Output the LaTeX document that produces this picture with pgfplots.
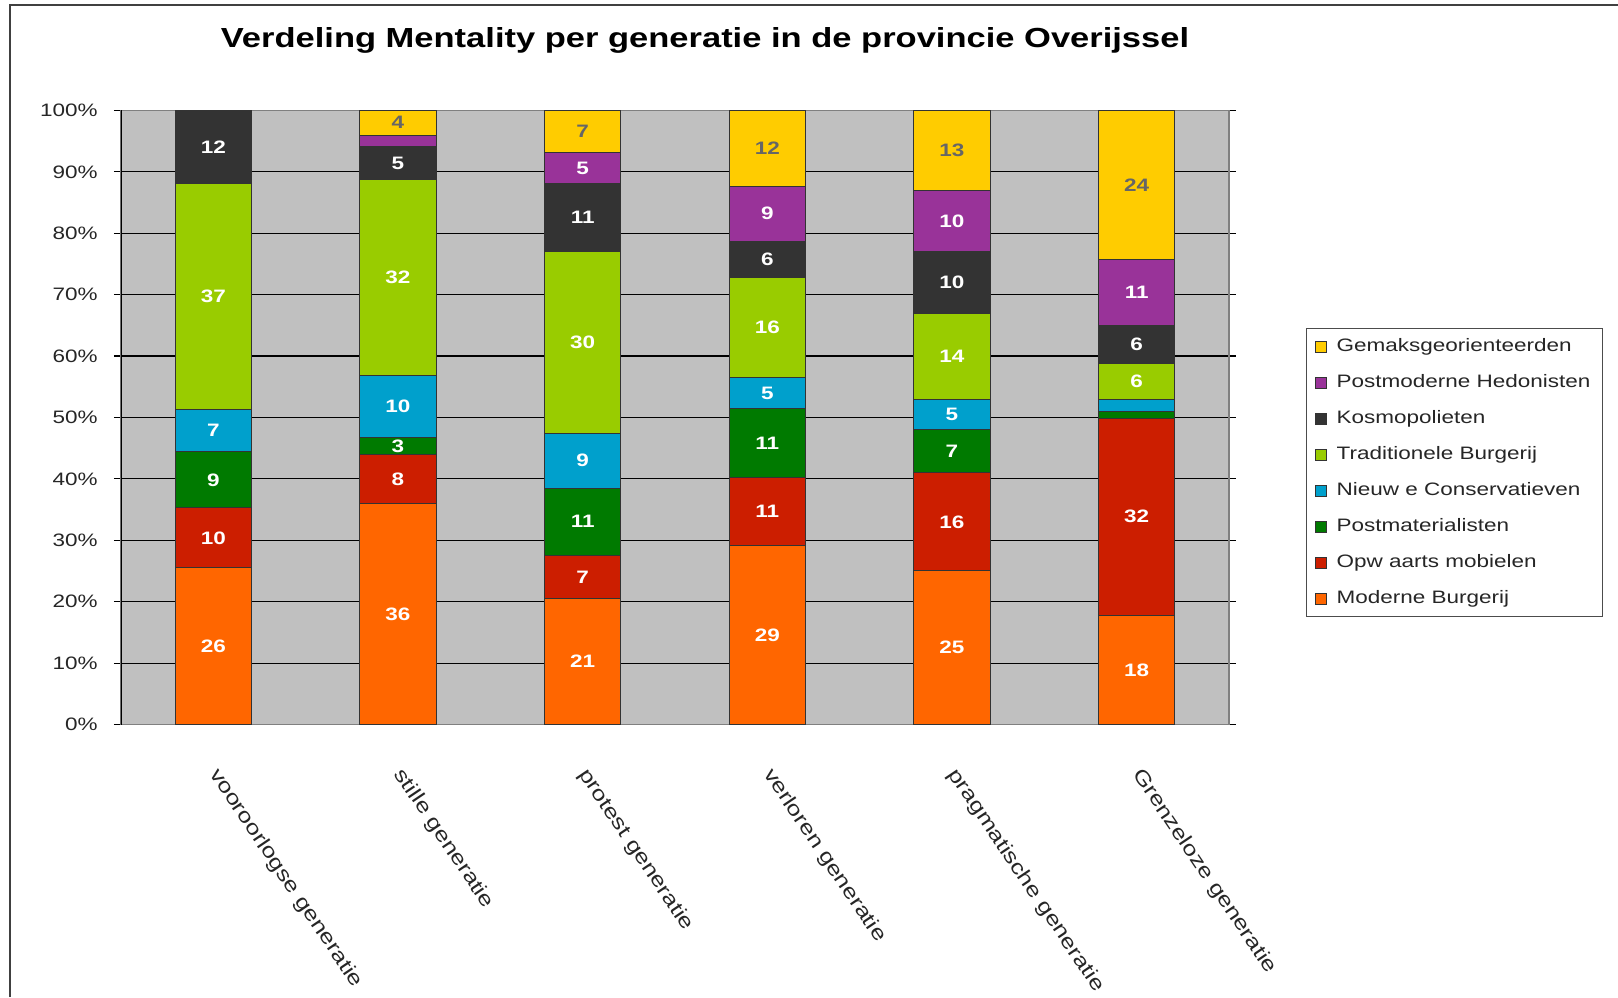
\documentclass[border=0pt]{standalone}
\usepackage{fontspec}
\setmainfont{Liberation Sans}[FakeStretch=1.25]
\usepackage{pgfplots}
\usepackage{pgfplotstable}
\pgfplotsset{compat=1.18}
\definecolor{cG}{HTML}{FFCC00}
\definecolor{cH}{HTML}{993399}
\definecolor{cK}{HTML}{333333}
\definecolor{cT}{HTML}{99CC00}
\definecolor{cN}{HTML}{00A0CC}
\definecolor{cP}{HTML}{007A00}
\definecolor{cO}{HTML}{CC1E00}
\definecolor{cM}{HTML}{FF6600}
\definecolor{bgray}{HTML}{C0C0C0}
\pgfplotstableread{
x M Ml O Ol P Pl N Nl T Tl K Kl H Hl G Gl
0 25.5 26 9.8 10 9.1 9 6.9 7 36.8 37 11.9 12 0 {} 0 {}
1 36.0 36 7.9 8 2.8 3 10.1 10 31.9 32 5.4 5 1.9 {} 4.0 4
2 20.5 21 7.1 7 10.9 11 8.9 9 29.6 30 11.1 11 5.0 5 6.9 7
3 29.2 29 11.1 11 11.1 11 5.1 5 16.3 16 5.9 6 9.0 9 12.3 12
4 25.0 25 16.0 16 7.1 7 4.8 5 14.0 14 10.1 10 9.9 10 13.1 13
5 17.8 18 32.1 32 1.0 {} 2.0 {} 5.9 6 6.2 6 10.8 11 24.2 24
}\data
\begin{document}
\begin{tikzpicture}
\useasboundingbox (0,0) rectangle (809pt,498.5pt);
\fill[white] (0,0) rectangle (809pt,498.5pt);
\draw[line width=1.2pt, black!75] (5pt,0) -- (5pt,496pt) -- (809pt,496pt);
\node[font=\bfseries\fontsize{13.8}{16}\selectfont] at (352.5pt,478.5pt) {Verdeling Mentality per generatie in de provincie Overijssel};
\begin{axis}[
 at={(60.5pt,136.25pt)}, anchor=south west,
 scale only axis, width=554pt, height=307pt,
 ybar stacked, bar width=38pt,
 xmin=-0.5, xmax=5.5, ymin=0, ymax=100,
 xtick={0,...,5},
 xticklabels={vooroorlogse generatie, stille generatie, protest generatie, verloren generatie, pragmatische generatie, Grenzeloze generatie},
 x tick style={draw=none},
 ytick={0,10,...,100},
 yticklabels={0\%,10\%,20\%,30\%,40\%,50\%,60\%,70\%,80\%,90\%,100\%},
 tick align=outside, major tick length=3.5pt,
 y tick style={black, line width=0.6pt},
 ymajorgrids, grid style={black, line width=0.6pt},
 axis background/.style={fill=bgray},
 axis line style={draw=gray, line width=0.6pt},
 tick label style={text=black!85},
 yticklabel style={font=\fontsize{9}{10}\selectfont, anchor=east, inner sep=0pt, xshift=-8pt},
 xticklabel style={font=\fontsize{10.1}{11}\selectfont, anchor=north west, inner sep=0pt, yshift=-17pt, xshift=4pt, rotate=-56},
 nodes near coords, point meta=explicit symbolic,
 every node near coord/.append style={font=\bfseries\fontsize{9}{10}\selectfont, text=white},
 legend style={at={(axis description cs:1.0695,0.6458)}, anchor=north west, draw=black!70, line width=0.6pt, font=\fontsize{9}{10}\selectfont, row sep=5pt, column sep=3pt, inner xsep=4pt, inner ysep=2.5pt, nodes={text height=7pt, text depth=2pt, text=black!85}},
 legend cell align=left,
 reverse legend,
 legend image code/.code={\draw[#1, draw=black!80, line width=0.5pt] (0pt,-2.75pt) rectangle (5.5pt,2.75pt);},
]
\addplot[fill=cM, draw=black!80, line width=0.5pt] table[x=x,y=M,meta=Ml]{\data};
\addplot[fill=cO, draw=black!80, line width=0.5pt] table[x=x,y=O,meta=Ol]{\data};
\addplot[fill=cP, draw=black!80, line width=0.5pt] table[x=x,y=P,meta=Pl]{\data};
\addplot[fill=cN, draw=black!80, line width=0.5pt] table[x=x,y=N,meta=Nl]{\data};
\addplot[fill=cT, draw=black!80, line width=0.5pt] table[x=x,y=T,meta=Tl]{\data};
\addplot[fill=cK, draw=black!80, line width=0.5pt] table[x=x,y=K,meta=Kl]{\data};
\addplot[fill=cH, draw=black!80, line width=0.5pt] table[x=x,y=H,meta=Hl]{\data};
\addplot[fill=cG, draw=black!80, line width=0.5pt, every node near coord/.append style={text=black!60}] table[x=x,y=G,meta=Gl]{\data};
\legend{Moderne Burgerij, Opw aarts mobielen, Postmaterialisten, Nieuw e Conservatieven, Traditionele Burgerij, Kosmopolieten, Postmoderne Hedonisten, Gemaksgeorienteerden}
\draw[black, line width=0.6pt] (rel axis cs:0,0) -- (rel axis cs:0,1);
\end{axis}
\end{tikzpicture}
\end{document}
